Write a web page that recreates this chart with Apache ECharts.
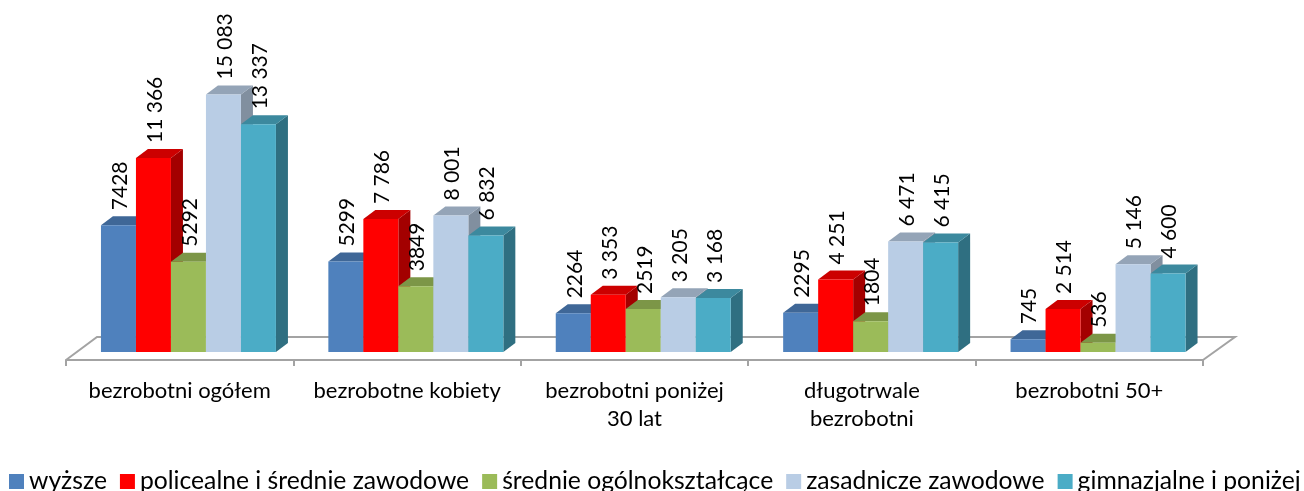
<!DOCTYPE html>
<html><head><meta charset="utf-8">
<style>html,body{margin:0;padding:0;background:#fff}#c{width:1304px;height:491px}</style>
<script src="https://cdn.jsdelivr.net/npm/echarts@6/dist/echarts.min.js"></script>
</head><body><div id="c"></div>
<script>
const categories = ['bezrobotni ogółem','bezrobotne kobiety','bezrobotni poniżej\n30 lat','długotrwale\nbezrobotni','bezrobotni 50+'];
const names = ['wyższe','policealne i średnie zawodowe','średnie ogólnokształcące','zasadnicze zawodowe','gimnazjalne i poniżej'];
const wyzsze = [7428,5299,2264,2295,745];
const policealne = [11366,7786,3353,4251,2514];
const srednie = [5292,3849,2519,1804,536];
const zasadnicze = [15083,8001,3205,6471,5146];
const gimnazjalne = [13337,6832,3168,6415,4600];
const labelsWyzsze = ['7428','5299','2264','2295','745'];
const labelsPolicealne = ['11 366','7 786','3 353','4 251','2 514'];
const labelsSrednie = ['5292','3849','2519','1804','536'];
const labelsZasadnicze = ['15 083','8 001','3 205','6 471','5 146'];
const labelsGimnazjalne = ['13 337','6 832','3 168','6 415','4 600'];
const front = ['#4F81BD','#FF0000','#9BBB59','#B9CDE5','#4BACC6'];
const topC = ['#3F6797','#CC0000','#7C9647','#94A4B7','#3C899E'];
const sideC = ['#365A84','#A30000','#6D833E','#818F9F','#2F6F81'];
const FONT = 'Lato';
const DX = 12, DY = 9;
const allValues = [wyzsze,policealne,srednie,zasadnicze,gimnazjalne];
const allLabels = [labelsWyzsze,labelsPolicealne,labelsSrednie,labelsZasadnicze,labelsGimnazjalne];

function barRender(si){
  return function(params, api){
    const idx = api.value(0), v = api.value(1);
    const base = api.coord([idx,0]), top = api.coord([idx,v]);
    const w = api.size([1,0])[0]*0.1539;
    const x0 = base[0] - w*2.25 + w*si, x1 = x0 + w, yb = base[1], yt = top[1];
    return {type:'group',children:[
      {type:'polygon',shape:{points:[[x1,yb],[x1+DX,yb-DY],[x1+DX,yt-DY],[x1,yt]]},style:{fill:sideC[si]}},
      {type:'polygon',shape:{points:[[x0,yt],[x0+DX,yt-DY],[x1+DX,yt-DY],[x1,yt]]},style:{fill:topC[si]}},
      {type:'rect',shape:{x:x0,y:yt,width:w,height:yb-yt},style:{fill:front[si]}},
      {type:'text',x:x0+w/2+1.5,y:yt-15,rotation:Math.PI/2,
       style:{text:allLabels[si][idx],fill:'#000',font:'21px '+FONT,align:'left',verticalAlign:'middle'}}
    ]};
  };
}
const floorSeries = {
  type:'custom',name:'floor',silent:true,z:1,data:[[0]],encode:{x:0},
  renderItem(params, api){
    const c = params.coordSys, l=c.x, r=c.x+c.width, b=c.y+c.height;
    return {type:'polyline',shape:{points:[[l,b+8],[l+31,b-15],[r+32,b-15],[r,b+8]]},
      style:{fill:null,stroke:'#A3A3A3',lineWidth:2}};
  }
};
const barSeries = names.map((n,si)=>({
  type:'custom',name:n,z:2,itemStyle:{color:front[si]},
  encode:{x:0,y:1},
  data:allValues[si].map((v,i)=>[i,v]),
  renderItem:barRender(si)
}));
const chart = echarts.init(document.getElementById('c'),null,{renderer:'canvas'});
chart.setOption({
  animation:false,
  backgroundColor:'#fff',
  grid:{left:66,top:10.6,width:1137,height:341.4,containLabel:false},
  xAxis:{type:'category',data:categories,offset:8,position:'bottom',boundaryGap:true,
    axisLine:{show:true,onZero:false,lineStyle:{color:'#A3A3A3',width:2}},
    axisTick:{show:true,length:6,interval:0,lineStyle:{color:'#A3A3A3',width:2},alignWithLabel:false},
    axisLabel:{interval:0,margin:17,fontFamily:FONT,fontSize:22,color:'#000',lineHeight:28,verticalAlign:'top'}},
  yAxis:{type:'value',min:0,max:20000,show:false},
  legend:{data:names,orient:'horizontal',left:9,top:469,width:1600,padding:0,itemWidth:15,itemHeight:15,itemGap:13,icon:'rect',
    textStyle:{fontFamily:FONT,fontSize:24.7,color:'#000',padding:[0,0,0,0]}},
  series:[floorSeries].concat(barSeries)
});
</script></body></html>
